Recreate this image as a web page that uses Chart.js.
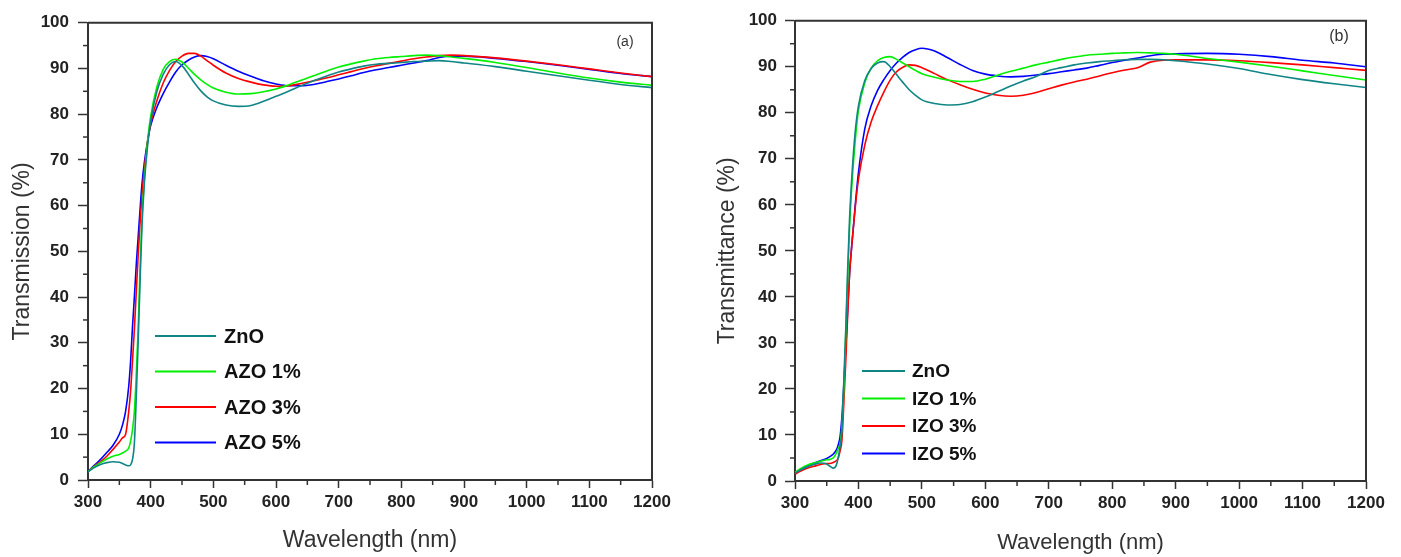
<!DOCTYPE html>
<html>
<head>
<meta charset="utf-8">
<script src="https://cdn.jsdelivr.net/npm/chart.js@4.4.1/dist/chart.umd.min.js"></script>
<style>
html,body{margin:0;padding:0;background:#fff;}
#wrap{position:relative;width:1401px;height:557px;background:#fff;}
#boxA{position:absolute;left:0;top:0;width:700px;height:557px;}
#boxB{position:absolute;left:700px;top:0;width:701px;height:557px;}
canvas{display:block;}
</style>
</head>
<body>
<div id="wrap">
  <div id="boxA"><canvas id="chartA" width="700" height="557"></canvas></div>
  <div id="boxB"><canvas id="chartB" width="701" height="557"></canvas></div>
</div>
<script>
// ---------- DATA ----------
const wavelengths = [300,310,320,330,340,350,355,360,365,368,371,374,377,380,383,386,390,395,400,
  410,420,430,440,450,460,470,480,490,500,
  520,540,560,580,600,620,640,660,680,700,720,740,760,780,800,820,840,860,880,900,
  950,1000,1050,1100,1150,1200];

// Panel (a)
const labelsA = ['ZnO','AZO 1%','AZO 3%','AZO 5%'];
const znoA = [1.8,2.7,3.4,3.8,4.0,3.9,3.6,3.3,3.1,3.3,4.5,8,18,30,43,55,65,73,78.5,
  85,88.7,90.8,91.5,90.6,88.8,86.8,85.1,83.8,82.9,
  82.0,81.7,81.9,82.8,83.9,85.0,86.2,87.3,88.3,89.2,89.9,90.5,90.9,91.1,91.3,91.5,91.6,91.7,91.5,91.2,
  90.4,89.4,88.4,87.4,86.5,85.8];
const azo1 = [1.8,2.9,3.8,4.6,5.2,5.6,5.9,6.3,7.0,8.5,11,15,23,33,46,57,66,74,79.5,
  86,89.8,91.5,92.0,91.4,90.1,88.7,87.5,86.5,85.7,
  84.8,84.4,84.5,84.9,85.5,86.4,87.4,88.4,89.4,90.3,91.0,91.6,92.1,92.4,92.6,92.8,92.9,92.8,92.5,92.2,
  91.3,90.2,89.0,87.9,87.0,86.3];
const azo3 = [1.8,3.0,4.0,5.2,6.7,8.3,9.2,10,15,19.5,26,33,41,49,56,62,68,74,78,
  83,86.8,89.5,91.5,92.7,93.3,93.3,92.7,91.7,90.7,
  89.0,87.8,87.0,86.4,86.1,86.2,86.7,87.3,87.9,88.6,89.3,90.0,90.6,91.1,91.6,92.1,92.5,92.8,92.9,92.8,
  92.3,91.6,90.8,89.9,89.0,88.2];
const azo5 = [1.8,3.2,4.5,6.0,7.6,10,12,15,20.5,26,33.5,40,47,53,59,64.5,69.5,74,77.5,
  81.5,84.5,87,89.2,90.8,91.8,92.5,92.8,92.6,92.1,
  90.7,89.4,88.3,87.3,86.6,86.2,86.2,86.5,87.1,87.7,88.4,89.1,89.7,90.2,90.7,91.2,91.7,92.4,92.7,92.7,
  92.2,91.5,90.7,89.8,88.9,88.2];

// Panel (b)
const labelsB = ['ZnO','IZO 1%','IZO 3%','IZO 5%'];
const znoB = [1.7,2.5,3.1,3.6,3.9,3.7,3.2,2.8,3.4,5.0,7.5,11,22,33,46,57,67,76,81.5,
  87,89.6,90.8,91.1,90.0,88.3,86.6,85.0,83.8,82.8,
  82.0,81.7,81.8,82.4,83.4,84.6,85.8,86.9,87.9,89.2,89.8,90.4,90.8,91.1,91.3,91.5,91.6,91.6,91.5,91.3,
  90.6,89.6,88.3,87.2,86.3,85.5];
const izo1 = [1.9,2.8,3.5,3.9,4.3,4.6,4.7,5.0,6.0,7.0,8.0,12,20,32,44,55,65,74,80.5,
  86.5,89.7,91.3,92.0,92.2,91.6,90.8,90.0,89.2,88.5,
  87.7,87.1,86.8,86.8,87.3,88.2,89.0,89.7,90.4,91.0,91.6,92.1,92.5,92.7,92.9,93.0,93.1,93.0,92.9,92.7,
  91.8,91.0,90.1,89.1,88.1,87.1];
const izo3 = [1.5,2.2,2.8,3.2,3.6,3.8,3.8,4.0,4.4,4.9,6.5,9,17,26,36,45,52,59.5,65.5,
  73,78,81.5,84.5,87.1,88.9,89.9,90.4,90.3,89.8,
  88.5,87.2,86.1,85.1,84.3,83.8,83.6,83.8,84.4,85.2,86.0,86.7,87.3,88.0,88.7,89.3,89.8,91.0,91.4,91.5,
  91.5,91.3,90.9,90.4,89.8,89.2];
const izo5 = [1.6,2.5,3.3,3.9,4.4,4.9,5.3,5.8,6.7,7.8,9.6,14,21,29,37,45,52,60,67,
  76.5,81.5,84.8,87.2,89.2,90.8,92.1,93.1,93.7,94.0,
  93.4,92.0,90.5,89.2,88.4,88.0,87.8,87.9,88.2,88.5,88.9,89.3,89.7,90.3,90.9,91.4,91.9,92.4,92.7,92.8,
  92.9,92.7,92.2,91.4,90.8,90.0];

const seriesColors = ['#108585', '#00f000', '#ff0000', '#0000ff'];
const xTitle = 'Wavelength (nm)';
const yTitleA = 'Transmission (%)';
const yTitleB = 'Transmittance (%)';
const panelA = '(a)';
const panelB = '(b)';

// ---------- HELPERS ----------
const FONT = "'Liberation Sans', Arial, Helvetica, sans-serif";
const INK = '#333333';

const framePlugin = {
  id: 'frameMinor',
  afterDraw(chart, args, o) {
    const {ctx, chartArea: a, scales} = chart;
    const x = scales.x, y = scales.y;
    ctx.save();
    ctx.strokeStyle = INK;
    ctx.lineWidth = 2;
    ctx.beginPath();
    ctx.moveTo(a.left, a.top);
    ctx.lineTo(a.right, a.top);
    ctx.lineTo(a.right, a.bottom);
    ctx.stroke();
    ctx.lineWidth = 1.5;
    const xt = x.ticks.map(t => t.value);
    for (let i = 0; i < xt.length - 1; i++) {
      const px = x.getPixelForValue((xt[i] + xt[i + 1]) / 2);
      ctx.beginPath(); ctx.moveTo(px, a.bottom); ctx.lineTo(px, a.bottom + o.minorLen); ctx.stroke();
    }
    const yt = y.ticks.map(t => t.value);
    for (let i = 0; i < yt.length - 1; i++) {
      const py = y.getPixelForValue((yt[i] + yt[i + 1]) / 2);
      ctx.beginPath(); ctx.moveTo(a.left, py); ctx.lineTo(a.left - o.minorLen, py); ctx.stroke();
    }
    ctx.restore();
  }
};

const legendPlugin = {
  id: 'insideLegend',
  afterDraw(chart, args, o) {
    const ctx = chart.ctx;
    ctx.save();
    ctx.font = o.font;
    ctx.textBaseline = 'middle';
    ctx.textAlign = 'left';
    chart.data.datasets.forEach((ds, i) => {
      const yy = o.y + i * o.dy;
      ctx.strokeStyle = ds.borderColor;
      ctx.lineWidth = 2;
      ctx.beginPath(); ctx.moveTo(o.x, yy); ctx.lineTo(o.x + o.len, yy); ctx.stroke();
      ctx.fillStyle = '#111';
      ctx.fillText(ds.label, o.x + o.len + o.gap, yy + 1);
    });
    // panel label
    ctx.font = o.panelFont;
    ctx.fillStyle = INK;
    ctx.textAlign = 'center';
    ctx.fillText(o.panelText, o.panelX, o.panelY);
    ctx.restore();
  }
};

function makeChart(id, labels, values, cfg) {
  const datasets = labels.map((lab, i) => ({
    label: lab,
    data: wavelengths.map((w, k) => ({x: w, y: values[i][k]})),
    borderColor: seriesColors[i],
    backgroundColor: seriesColors[i],
    borderWidth: 1.6,
    pointRadius: 0,
    cubicInterpolationMode: 'monotone',
    fill: false
  }));
  return new Chart(document.getElementById(id), {
    type: 'line',
    data: {datasets},
    plugins: [framePlugin, legendPlugin],
    options: {
      responsive: false,
      animation: false,
      events: [],
      layout: {padding: {left: 0, top: cfg.top, right: cfg.right, bottom: 0}},
      plugins: {
        legend: {display: false},
        tooltip: {enabled: false},
        frameMinor: {minorLen: 5},
        insideLegend: cfg.legend
      },
      scales: {
        x: {
          type: 'linear', min: 300, max: 1200,
          ticks: {stepSize: 100, callback: v => String(v), font: {family: FONT, size: cfg.tickSize, weight: 'bold'}, color: '#222', padding: 4, maxRotation: 0, autoSkip: false},
          grid: {drawOnChartArea: false, drawTicks: true, tickLength: 8, tickColor: INK, tickWidth: 1.5},
          border: {display: true, color: INK, width: 2},
          title: {display: true, text: xTitle, font: {family: FONT, size: cfg.xTitleSize}, color: INK, padding: {top: 0, bottom: cfg.xTitlePad}},
          afterFit: s => { s.height = cfg.xH; }
        },
        y: {
          type: 'linear', min: 0, max: 100,
          ticks: {stepSize: 10, callback: v => String(v), font: {family: FONT, size: cfg.tickSize, weight: 'bold'}, color: '#222', padding: cfg.yTickPad},
          grid: {drawOnChartArea: false, drawTicks: true, tickLength: 10, tickColor: INK, tickWidth: 1.5},
          border: {display: true, color: INK, width: 2},
          title: {display: true, text: cfg.yTitle, font: {family: FONT, size: 23}, color: INK, padding: {top: cfg.yTitlePad, bottom: 0}},
          afterFit: s => { s.width = cfg.yW; }
        }
      }
    }
  });
}

makeChart('chartA', labelsA, [znoA, azo1, azo3, azo5], {
  top: 22.7, right: 48, xH: 77, yW: 88, tickSize: 17, yTickPad: 9,
  xTitleSize: 23, xTitlePad: 3, yTitle: yTitleA, yTitlePad: 9,
  legend: {x: 155, y: 336, dy: 35.5, len: 61, gap: 8, font: 'bold 20px ' + FONT,
           panelText: panelA, panelX: 625, panelY: 42, panelFont: '14px ' + FONT}
});
makeChart('chartB', labelsB, [znoB, izo1, izo3, izo5], {
  top: 20.7, right: 35, xH: 76, yW: 95, tickSize: 17, yTickPad: 8,
  xTitleSize: 22, xTitlePad: 1, yTitle: yTitleB, yTitlePad: 14,
  legend: {x: 162, y: 371, dy: 27.5, len: 43, gap: 7, font: 'bold 19px ' + FONT,
           panelText: panelB, panelX: 639, panelY: 37, panelFont: '16px ' + FONT}
});
</script>
</body>
</html>
